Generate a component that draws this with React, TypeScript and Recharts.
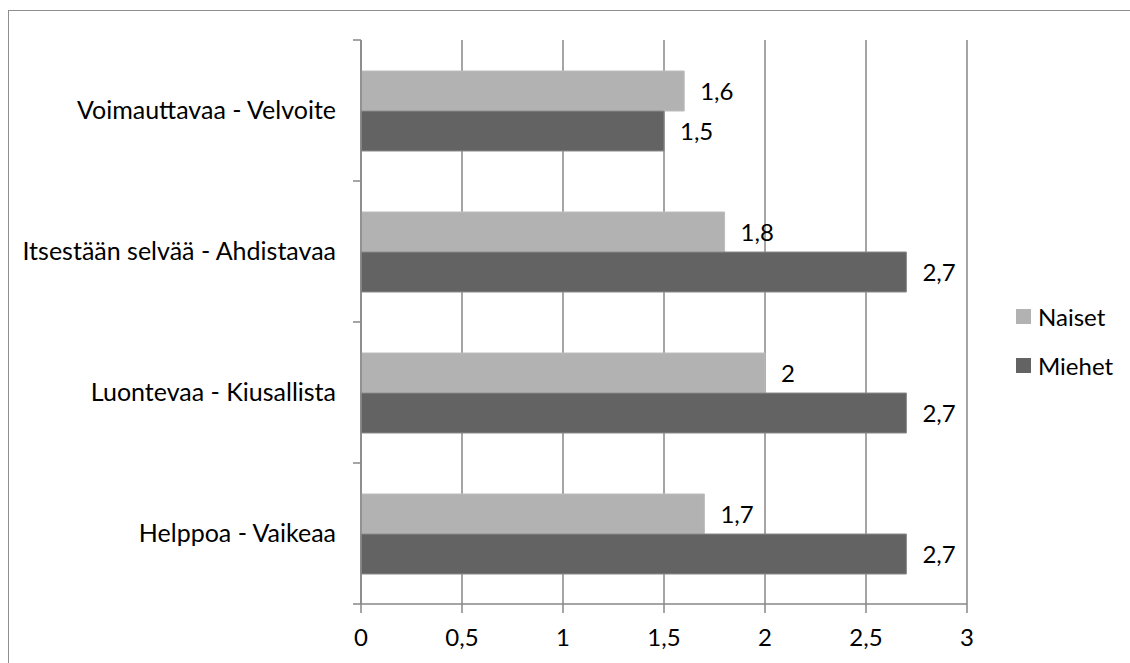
import { BarChart, Bar, XAxis, YAxis, CartesianGrid, LabelList } from 'recharts';

const categories = [
  'Voimauttavaa - Velvoite',
  'Itsestään selvää - Ahdistavaa',
  'Luontevaa - Kiusallista',
  'Helppoa - Vaikeaa',
];
const naiset = [1.6, 1.8, 2, 1.7];
const miehet = [1.5, 2.7, 2.7, 2.7];
const xTicks = [0, 0.5, 1, 1.5, 2, 2.5, 3];

const series = [
  { key: 'naiset', name: 'Naiset', color: '#b2b2b2' },
  { key: 'miehet', name: 'Miehet', color: '#636363' },
];

const data = categories.map((name, i) => ({ name, naiset: naiset[i], miehet: miehet[i] }));

const FONT = 'Lato, "Open Sans", sans-serif';
const AXIS = '#878787';
const fmt = (v: number | string) => String(v).replace('.', ',');

// category labels sit in the band centre, the small tick marks on the band edges (Excel style)
function CategoryTick(props: any) {
  const { x, y, payload, index, visibleTicksCount } = props;
  const half = payload?.offset ?? 70.6;
  const lx1 = x + 17;
  const lx2 = x + 25;
  const last = index === (visibleTicksCount ?? categories.length) - 1;
  return (
    <g>
      <line x1={lx1} x2={lx2} y1={y - half} y2={y - half} stroke={AXIS} strokeWidth={1.5} />
      {last && <line x1={lx1} x2={lx2} y1={y + half} y2={y + half} stroke={AXIS} strokeWidth={1.5} />}
      <text x={x} y={y} dy="0.35em" textAnchor="end" fill="#000" fontSize={25} fontFamily={FONT}>
        {payload.value}
      </text>
    </g>
  );
}

export default function App() {
  return (
    <div
      style={{
        position: 'absolute',
        left: 0,
        top: 0,
        width: 1130,
        height: 663,
        overflow: 'hidden',
        background: '#fff',
        fontFamily: FONT,
      }}
    >
      <div
        style={{
          position: 'absolute',
          left: 8,
          top: 10,
          width: 1300,
          height: 800,
          border: '1.5px solid #8e8e8e',
        }}
      />
      <div style={{ position: 'absolute', left: 0, top: 0 }}>
        <BarChart
          width={1130}
          height={663}
          data={data}
          layout="vertical"
          margin={{ top: 40, right: 163, bottom: 0, left: 0 }}
          barGap={0}
        >
          <CartesianGrid horizontal={false} stroke={AXIS} strokeWidth={1.5} />
          <XAxis
            type="number"
            domain={[0, 3]}
            ticks={xTicks}
            height={59}
            tickSize={9}
            tickMargin={16}
            tickFormatter={fmt}
            stroke={AXIS}
            strokeWidth={1.5}
            tick={{ fill: '#000', fontSize: 24, fontFamily: FONT }}
          />
          <YAxis
            type="category"
            dataKey="name"
            width={361}
            tickSize={8}
            tickMargin={17}
            tickLine={false}
            stroke={AXIS}
            strokeWidth={1.5}
            tick={<CategoryTick />}
            interval={0}
          />
          {series.map((s) => (
            <Bar
              key={s.key}
              dataKey={s.key}
              name={s.name}
              fill={s.color}
              barSize={40}
              stroke={s.key === 'miehet' ? '#8a8a8a' : '#bcbcbc'}
              strokeWidth={1}
              isAnimationActive={false}
            >
              <LabelList
                dataKey={s.key}
                position="right"
                offset={16}
                formatter={fmt}
                fill="#000"
                fontSize={24}
                fontFamily={FONT}
              />
            </Bar>
          ))}
        </BarChart>
      </div>
      <div style={{ position: 'absolute', left: 1016, top: 298 }}>
        {series.map((s) => (
          <div key={s.key} style={{ display: 'flex', alignItems: 'center', height: 36, marginBottom: 13 }}>
            <span style={{ display: 'inline-block', width: 15, height: 15, background: s.color, marginRight: 7 }} />
            <span style={{ fontSize: 24, color: '#000' }}>{s.name}</span>
          </div>
        ))}
      </div>
    </div>
  );
}
